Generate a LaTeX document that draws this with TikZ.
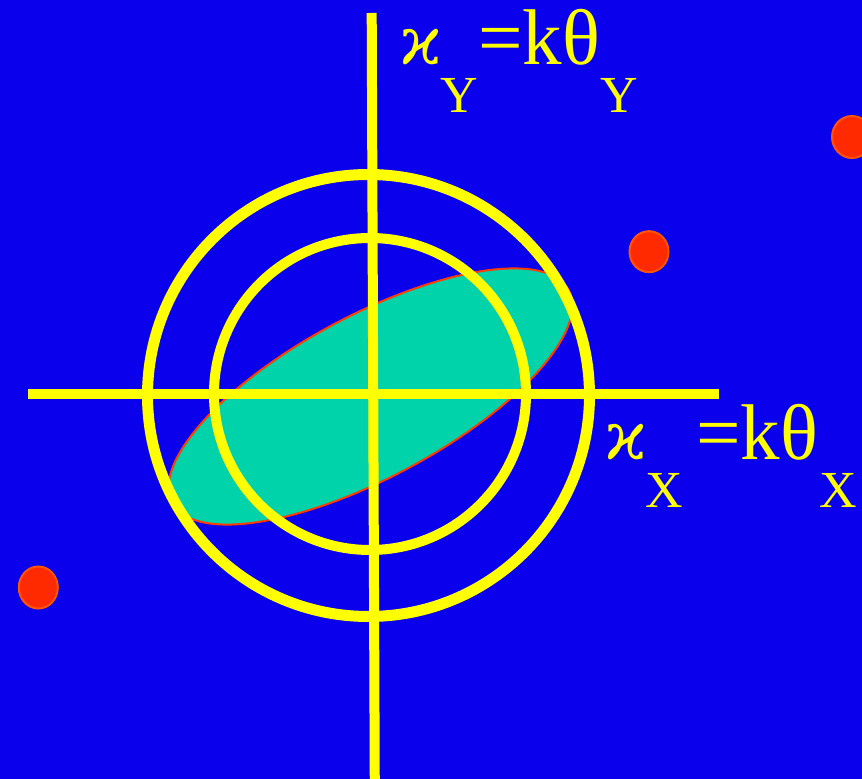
\documentclass[tikz,border=0pt]{standalone}
\usepackage{fontspec}
\setmainfont{Liberation Serif}
\newfontfamily\kapfont{DejaVu Serif}
\definecolor{bgblue}{RGB}{10,0,236}
\definecolor{ygold}{RGB}{255,255,0}
\definecolor{teal}{RGB}{0,210,170}
\definecolor{redline}{RGB}{255,60,0}
\definecolor{dotfill}{RGB}{255,42,0}
\definecolor{dotedge}{RGB}{255,85,0}
\tikzset{
  yline/.style={draw=ygold, line width=10pt},
  reddot/.style={fill=dotfill, draw=dotedge, line width=2pt},
  bigtxt/.style={inner sep=0pt, anchor=base west, text=ygold, font=\fontsize{79}{79}\selectfont},
  kaptxt/.style={inner sep=0pt, anchor=base west, text=ygold, font=\kapfont\fontsize{66}{66}\selectfont},
  subtxt/.style={inner sep=0pt, anchor=base west, text=ygold, font=\fontsize{52}{52}\selectfont},
}
\begin{document}
\begin{tikzpicture}[x=1pt,y=1pt]
\useasboundingbox (0,0) rectangle (862,779);
\clip (0,0) rectangle (862,779);
\fill[bgblue] (0,0) rectangle (862,779);
% ellipse
\draw[fill=teal, draw=redline, line width=2pt] (370.5,382.5) ellipse[x radius=225, y radius=81, rotate=28.2];
% circles
\draw[yline, line width=11pt] (368.5,383.5) circle[radius=221];
\draw[yline] (370,385) circle[radius=156];
% axes
\draw[yline] (28,384.7) -- (718.5,384.7);
\draw[yline] (371.7,766) -- (374.8,-10);
% dots
\fill[reddot] (38.3,191.5) ellipse[x radius=19.5, y radius=21];
\fill[reddot] (649,527.3) ellipse[x radius=19.5, y radius=20.5];
\fill[reddot] (852,642) ellipse[x radius=20, y radius=21];
% labels Y
\node[kaptxt] (ky) at (400,714) {\char"03F0};
\node[subtxt] (ky1) at (440,666) {Y};
\node[bigtxt] (ey) at (478,714) {=k\char"03B8};
\node[subtxt] (ky2) at (600,666) {Y};
% labels X
\node[kaptxt] (kx) at (605,319) {\char"03F0};
\node[subtxt] (kx1) at (645,271) {X};
\node[bigtxt] (ex) at (696,319) {=k\char"03B8};
\node[subtxt] (kx2) at (819,271) {X};
\end{tikzpicture}
\end{document}
